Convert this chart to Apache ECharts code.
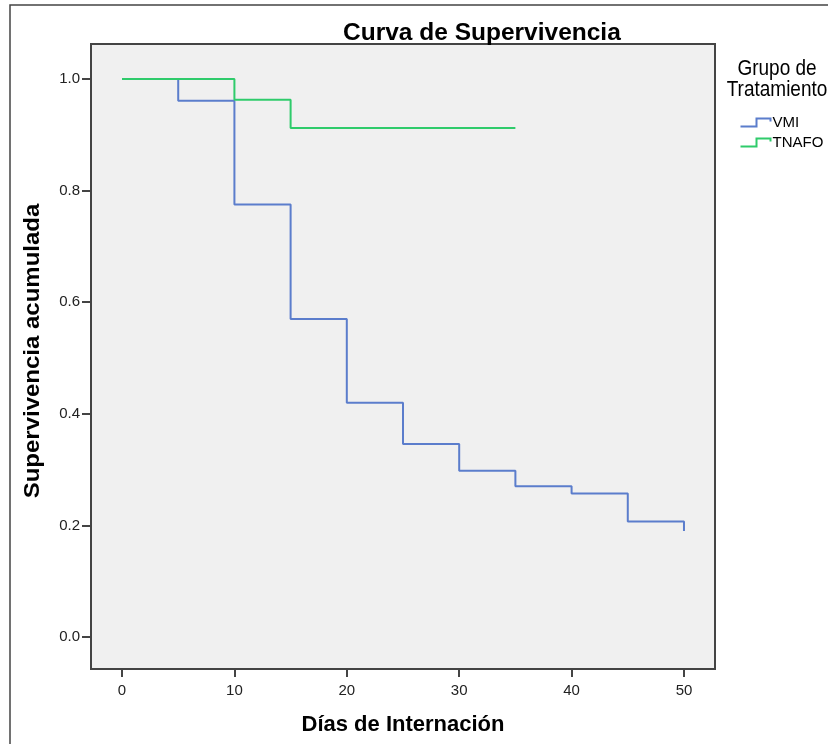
<!DOCTYPE html>
<html>
<head>
<meta charset="utf-8">
<script src="https://cdn.jsdelivr.net/npm/echarts@6/dist/echarts.min.js"></script>
<style>
  html, body { margin: 0; padding: 0; background: #ffffff; }
  #chart { width: 828px; height: 744px; }
</style>
</head>
<body>
<div id="chart"></div>
<script>
// ---- Data ----
const titleText = 'Curva de Supervivencia';
const xAxisTitle = 'Días de Internación';
const yAxisTitle = 'Supervivencia acumulada';
const legendTitle = 'Grupo de\nTratamiento';
const seriesNames = ['VMI', 'TNAFO'];

// Days (step points) and cumulative survival per group
const vmiDays     = [0,    5,     10,    15,    20,    25,    30,    35,    40,    45,    50];
const vmiSurv     = [1.0,  0.961, 0.775, 0.570, 0.420, 0.346, 0.298, 0.270, 0.257, 0.207, 0.190];
const tnafoDays   = [0,    10,    15,    35];
const tnafoSurv   = [1.0,  0.963, 0.912, 0.912];

const xTicks = [0, 10, 20, 30, 40, 50];
const yTicks = [0.0, 0.2, 0.4, 0.6, 0.8, 1.0];

const colors = ['#5b7dcc', '#2fcb6b'];

function pairs(xs, ys) { return xs.map((x, i) => [x, ys[i]]); }

const chart = echarts.init(document.getElementById('chart'), null, { renderer: 'canvas' });

const fontFam = '"Liberation Sans", Arial, sans-serif';

const option = {
  backgroundColor: '#ffffff',
  animation: false,
  title: [
    {
      text: titleText,
      left: 338,
      top: 16,
      textStyle: { fontFamily: fontFam, fontSize: 24.5, fontWeight: 'bold', color: '#000' }
    }
  ],
  legend: {
    orient: 'vertical',
    left: 733,
    top: 110,
    itemWidth: 32,
    itemHeight: 8,
    itemGap: 5,
    icon: 'path://M0,8 L16,8 L16,0 L30,0 L30,3',
    textStyle: { fontFamily: fontFam, fontSize: 15, color: '#000', padding: [0, 0, 0, -4] },
    data: seriesNames.map((n, i) => ({
      name: n,
      itemStyle: { color: 'none', borderColor: colors[i], borderWidth: 2 }
    }))
  },
  graphic: [
    {
      type: 'rect',
      shape: { x: 10, y: 5, width: 1000, height: 1000 },
      style: { fill: 'none', stroke: '#444', lineWidth: 1.5 },
      silent: true,
      z: 100
    },
    {
      type: 'text',
      x: 777,
      y: 58,
      scaleY: 1.15,
      silent: true,
      style: {
        text: legendTitle,
        fill: '#000',
        font: '19px "Liberation Sans", Arial, sans-serif',
        lineHeight: 18.5,
        textAlign: 'center',
        textVerticalAlign: 'top'
      }
    },
    {
      type: 'text',
      x: 33,
      y: 351,
      rotation: Math.PI / 2,
      scaleX: 1.09,
      silent: true,
      style: {
        text: yAxisTitle,
        fill: '#000',
        font: 'bold 22px "Liberation Sans", Arial, sans-serif',
        textAlign: 'center',
        textVerticalAlign: 'middle'
      }
    }
  ],
  grid: {
    left: 91,
    top: 44,
    width: 624,
    height: 625,
    show: true,
    backgroundColor: '#f0f0f0',
    borderColor: '#444',
    borderWidth: 2
  },
  xAxis: {
    type: 'value',
    min: -2.76,
    max: 52.76,
    name: xAxisTitle,
    nameLocation: 'middle',
    nameGap: 45,
    nameTextStyle: { fontFamily: fontFam, fontSize: 22, fontWeight: 'bold', color: '#000' },
    axisLine: { show: true, onZero: false, lineStyle: { color: '#444', width: 2 } },
    axisTick: { show: true, length: 8, lineStyle: { color: '#444', width: 2 }, customValues: xTicks },
    axisLabel: {
      fontFamily: fontFam, fontSize: 15, color: '#222', margin: 14,
      customValues: xTicks,
      formatter: v => String(v)
    },
    splitLine: { show: false }
  },
  yAxis: {
    type: 'value',
    min: -0.0573,
    max: 1.0627,
    axisLine: { show: true, onZero: false, lineStyle: { color: '#444', width: 2 } },
    axisTick: { show: true, length: 9, lineStyle: { color: '#444', width: 2 }, customValues: yTicks },
    axisLabel: {
      fontFamily: fontFam, fontSize: 15, color: '#222', margin: 11,
      customValues: yTicks,
      formatter: v => v.toFixed(1)
    },
    splitLine: { show: false }
  },
  series: [
    {
      name: seriesNames[0],
      type: 'line',
      step: 'end',
      symbol: 'none',
      data: pairs(vmiDays, vmiSurv),
      lineStyle: { color: colors[0], width: 2 },
      itemStyle: { color: colors[0] },
      z: 2
    },
    {
      name: seriesNames[1],
      type: 'line',
      step: 'end',
      symbol: 'none',
      data: pairs(tnafoDays, tnafoSurv),
      lineStyle: { color: colors[1], width: 2 },
      itemStyle: { color: colors[1] },
      z: 3
    }
  ]
};

chart.setOption(option);
</script>
</body>
</html>
